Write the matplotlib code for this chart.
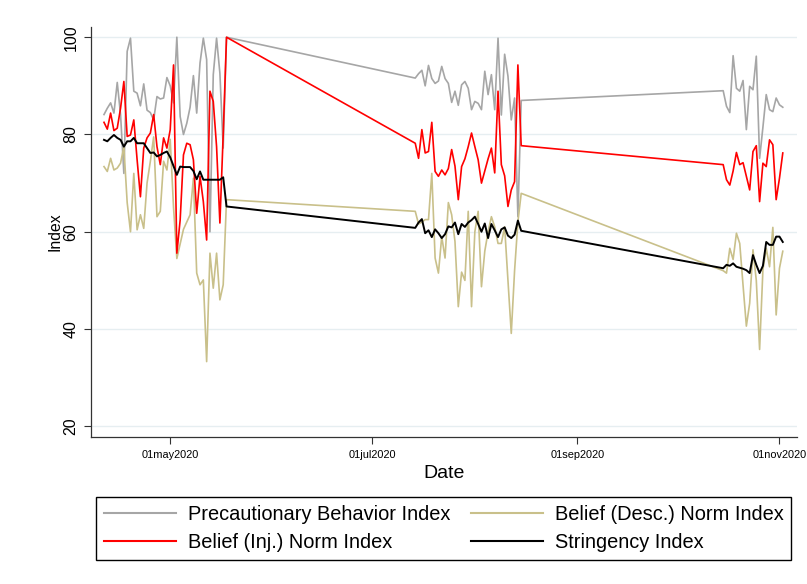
import matplotlib
matplotlib.use('Agg')
import matplotlib.pyplot as plt
import pandas as pd

plt.rcParams['font.family'] = ['Liberation Sans', 'DejaVu Sans']

# survey waves (daily data inside each wave)
wave_starts = ['2020-04-11', '2020-07-14', '2020-10-15']
wave_ends = ['2020-05-18', '2020-08-15', '2020-11-02']

precaution = [84.1, 85.4, 86.5, 84.4, 90.7, 84.1, 72.0, 97.1, 99.8, 88.9, 88.5, 85.9, 90.4,
              85.0, 84.5, 83.0, 87.8, 87.3, 87.5, 91.7, 90.0, 86.5, 100.0, 83.7, 80.0, 82.3,
              85.6, 92.1, 84.4, 94.7, 99.8, 95.4, 60.0, 92.3, 99.8, 92.6, 77.2, 100.0,
              91.6, 92.5, 93.2, 90.0, 94.2, 91.5, 90.5, 91.0, 94.0, 91.5, 90.5, 86.6, 88.9,
              86.0, 90.2, 90.9, 89.5, 85.1, 86.8, 86.4, 85.1, 93.0, 88.2, 92.3, 85.1, 99.8,
              84.0, 96.5, 92.0, 83.0, 87.5, 63.1, 87.0,
              89.0, 85.8, 84.5, 96.2, 89.5, 88.9, 91.1, 81.0, 89.9, 89.2, 96.1, 75.1, 81.5,
              88.2, 85.1, 84.7, 87.5, 86.1, 85.6]

desc_norm = [73.4, 72.4, 75.1, 72.7, 73.1, 74.1, 77.5, 66.0, 60.0, 72.0, 60.4, 63.5, 60.7,
             70.0, 74.5, 79.5, 63.1, 64.2, 74.5, 72.7, 79.0, 65.0, 54.5, 57.5, 60.5, 62.0,
             63.5, 71.0, 51.5, 49.1, 50.1, 33.3, 55.6, 48.4, 55.6, 46.0, 49.1, 66.6,
             64.2, 61.6, 62.0, 62.5, 62.5, 72.0, 54.6, 51.5, 59.0, 54.6, 66.0, 63.5, 58.0,
             44.6, 51.7, 50.0, 64.2, 44.6, 60.0, 64.2, 48.7, 56.0, 60.0, 63.1, 61.0, 57.6,
             57.6, 61.0, 50.0, 39.1, 52.0, 62.0, 67.9,
             52.0, 51.5, 56.6, 54.3, 59.7, 57.6, 49.0, 40.6, 45.3, 56.3, 50.0, 35.8, 52.2,
             56.6, 52.8, 60.9, 42.9, 52.5, 56.0]

inj_norm = [82.5, 81.1, 84.4, 80.8, 81.3, 85.4, 90.9, 79.6, 79.9, 83.0, 74.8, 67.2, 77.2,
            79.3, 80.3, 84.1, 77.5, 73.8, 79.3, 77.2, 81.0, 94.3, 55.6, 62.4, 75.8, 78.2,
            77.9, 74.8, 63.8, 71.4, 66.2, 58.3, 88.9, 86.8, 77.5, 61.8, 80.0, 100.0,
            78.2, 75.1, 81.0, 76.2, 76.5, 82.5, 72.4, 71.4, 72.7, 71.7, 73.0, 76.9, 73.5,
            66.6, 73.4, 75.0, 77.5, 80.3, 77.5, 74.8, 70.0, 72.5, 75.0, 77.2, 72.1, 88.9,
            73.8, 71.5, 65.2, 68.6, 70.3, 94.3, 77.7,
            73.8, 70.7, 69.6, 72.5, 76.3, 73.8, 74.2, 71.4, 68.6, 76.5, 77.7, 66.2, 74.1,
            73.4, 78.9, 77.9, 66.6, 71.0, 76.2]

stringency = [78.9, 78.6, 79.3, 79.9, 79.3, 78.9, 77.5, 78.6, 78.6, 79.3, 78.2, 78.2, 78.2,
              77.2, 76.2, 76.3, 75.5, 75.8, 76.2, 76.5, 75.3, 73.5, 71.7, 73.4, 73.3, 73.3,
              73.3, 72.5, 70.8, 72.4, 70.7, 70.7, 70.7, 70.7, 70.7, 70.7, 71.2, 65.2,
              60.8, 61.9, 62.6, 59.7, 60.3, 58.9, 60.5, 59.7, 58.7, 59.5, 61.1, 60.9, 61.9,
              59.5, 61.6, 61.0, 61.9, 62.4, 63.1, 61.6, 60.0, 61.7, 58.7, 61.6, 60.3, 58.9,
              60.5, 60.9, 59.2, 58.7, 59.4, 62.3, 60.2,
              52.5, 53.2, 53.0, 53.5, 52.8, 52.6, 52.4, 52.1, 51.5, 55.2, 53.2, 51.5, 53.0,
              57.9, 57.3, 57.3, 59.0, 59.0, 57.9]

tick_dates = ['2020-05-01', '2020-07-01', '2020-09-01', '2020-11-01']
tick_labels = ['01may2020', '01jul2020', '01sep2020', '01nov2020']
y_ticks = [20, 40, 60, 80, 100]

dates = []
for s, e in zip(wave_starts, wave_ends):
    dates.extend(pd.date_range(s, e, freq='D'))

fig = plt.figure(figsize=(8.07, 5.84), dpi=100)
ax = fig.add_axes([0.1128, 0.2517, 0.8748, 0.7029])

# stata-ish colours, drawn in varlist order
ax.plot(dates, precaution, color='#a6a6a6', lw=1.2, label='Precautionary Behavior Index')
ax.plot(dates, desc_norm, color='#c9c08a', lw=1.2, label='Belief (Desc.) Norm Index')
ax.plot(dates, inj_norm, color='#ff0000', lw=1.2, label='Belief (Inj.) Norm Index')
ax.plot(dates, stringency, color='#000000', lw=1.4, label='Stringency Index')

ax.set_xlim(pd.Timestamp('2020-04-07 02:00'), pd.Timestamp('2020-11-06 07:00'))
ax.set_ylim(17.8, 102.2)
ax.set_xticks([pd.Timestamp(d) for d in tick_dates])
ax.set_xticklabels(tick_labels, fontsize=7.9)
ax.set_yticks(y_ticks)
ax.set_yticklabels([str(v) for v in y_ticks], fontsize=11.5, rotation=90, va='center')
ax.tick_params(axis='both', length=5, width=0.8, color='#333333')
ax.tick_params(axis='x', pad=4)
ax.tick_params(axis='y', pad=4)

ax.grid(axis='y', color='#e6eef1', lw=1.0)
ax.set_axisbelow(True)
for side in ['top', 'right']:
    ax.spines[side].set_visible(False)
for side in ['left', 'bottom']:
    ax.spines[side].set_color('#333333')
    ax.spines[side].set_linewidth(0.9)

ax.set_xlabel('Date', fontsize=14, labelpad=4)
ax.set_ylabel('Index', fontsize=11.3, labelpad=1)

# legend order: col 1 = precaution / inj, col 2 = desc / stringency
h, l = ax.get_legend_handles_labels()
order = [0, 2, 1, 3]
leg = fig.legend([h[i] for i in order], [l[i] for i in order], ncol=2, fontsize=14.4,
                 loc='center', bbox_to_anchor=(0.550, 0.0942), bbox_transform=fig.transFigure,
                 handlelength=3.6, handletextpad=0.6, columnspacing=1.0, borderpad=0.4,
                 labelspacing=0.45, fancybox=False, framealpha=1)
leg.get_frame().set_edgecolor('#000000')
leg.get_frame().set_linewidth(1.0)
for line in leg.get_lines():
    line.set_linewidth(1.5)

fig.savefig('out.png', dpi=100)
